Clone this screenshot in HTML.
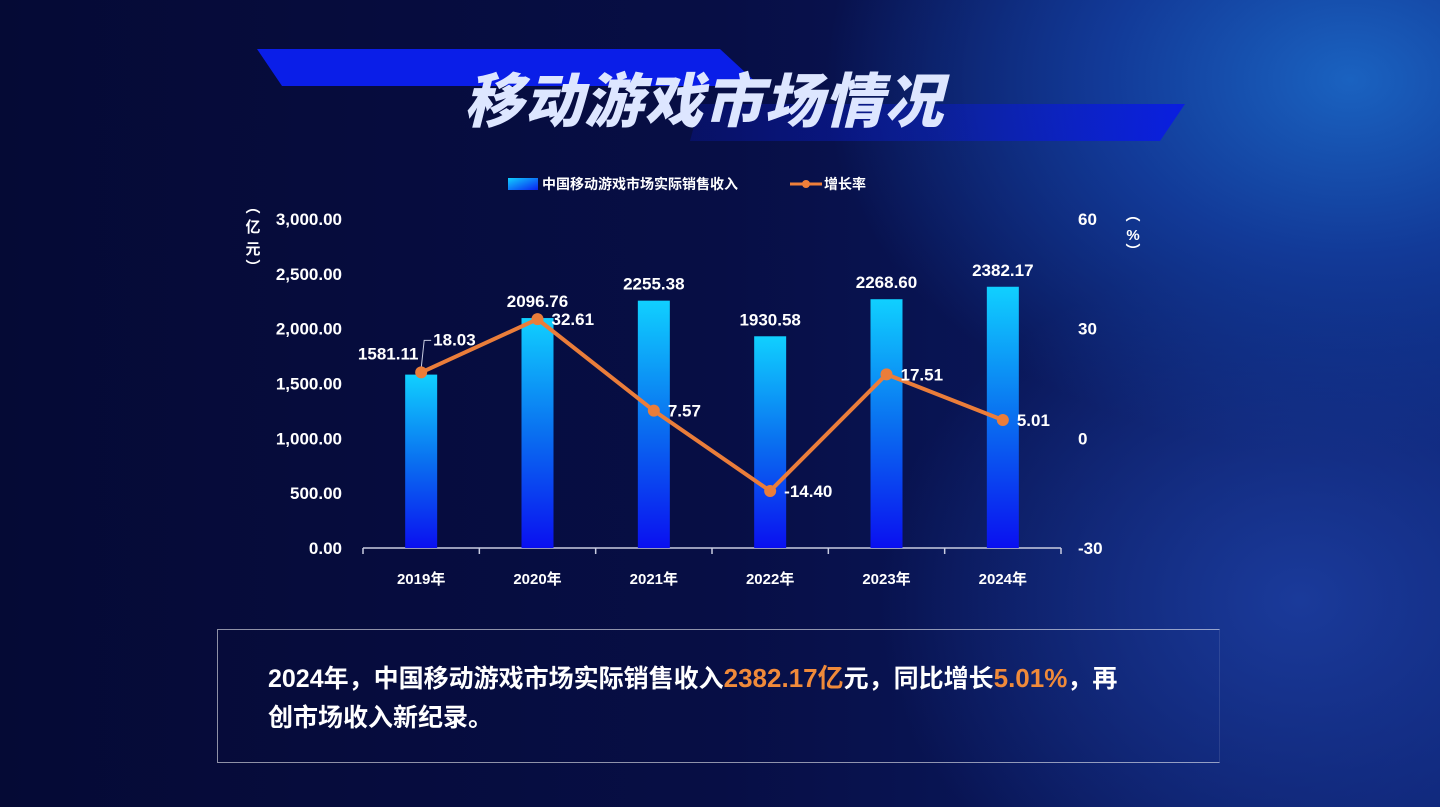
<!DOCTYPE html>
<html><head><meta charset="utf-8"><style>
html,body{margin:0;padding:0;width:1440px;height:807px;overflow:hidden}
body{background:radial-gradient(ellipse 700px 500px at 1350px 80px,#1a62c0 0%,#123a98 35%,transparent 75%),radial-gradient(ellipse 600px 500px at 1300px 600px,#1a3a9a 0%,transparent 70%),linear-gradient(90deg,#050a35 0%,#070e45 50%,#0c2170 100%);font-family:"Liberation Sans","Noto Sans CJK SC",sans-serif;position:relative}
svg{position:absolute;left:0;top:0}
text{font-family:"Liberation Sans","Noto Sans CJK SC",sans-serif;font-weight:bold;fill:#fff}
#box{position:absolute;left:217px;top:629px;width:1003px;height:134px;border:1px solid rgba(255,255,255,0.55);border-right-color:rgba(255,255,255,0.1);box-sizing:border-box}
#box p{margin:0;position:absolute;left:50px;top:29px;width:860px;color:#fff;font-size:25px;font-weight:bold;line-height:39px;font-family:"Liberation Sans","Noto Sans CJK SC",sans-serif}
.o{color:#f08a3a;font-size:26px}
</style></head><body>
<svg width="1440" height="807">
<defs>
<linearGradient id="bar" x1="0" y1="0" x2="0" y2="1"><stop offset="0" stop-color="#10d0ff"/><stop offset="0.5" stop-color="#0a70f0"/><stop offset="1" stop-color="#0a10f0"/></linearGradient>
<linearGradient id="ban" x1="0" y1="0" x2="1" y2="0"><stop offset="0" stop-color="#0a1ee8" stop-opacity="0.2"/><stop offset="0.5" stop-color="#0a1cc0" stop-opacity="0.5"/><stop offset="1" stop-color="#0a1ee0"/></linearGradient>
<linearGradient id="leg" x1="0" y1="0" x2="1" y2="1"><stop offset="0" stop-color="#10d0ff"/><stop offset="1" stop-color="#0a20f0"/></linearGradient>
</defs>
<polygon points="257,49 720,49 760,86 282,86" fill="#0a1ee8"/>
<polygon points="700,104 1185,104 1160,141 690,141" fill="url(#ban)"/>
<text x="704" y="122" text-anchor="middle" font-size="59" font-style="italic" style="fill:#dde6ff;font-weight:900" letter-spacing="1">移动游戏市场情况</text>
<rect x="508" y="178" width="30" height="12" fill="url(#leg)"/>
<text x="542" y="189" font-size="14">中国移动游戏市场实际销售收入</text>
<line x1="790" y1="184" x2="822" y2="184" stroke="#f07f3a" stroke-width="3"/><circle cx="806" cy="184" r="4" fill="#f07f3a"/>
<text x="824" y="189" font-size="14">增长率</text>
<text x="253" y="212" font-size="15" text-anchor="middle"><tspan x="253" dy="0">︵</tspan><tspan x="253" dy="20">亿</tspan><tspan x="253" dy="22">元</tspan><tspan x="253" dy="18">︶</tspan></text>
<text x="1133" y="220" font-size="15" text-anchor="middle"><tspan x="1133" dy="0">︵</tspan><tspan x="1133" dy="20">%</tspan><tspan x="1133" dy="16">︶</tspan></text>
<g id="g"></g>
</svg>
<div id="box"><p>2024年，中国移动游戏市场实际销售收入<span class="o">2382.17亿</span>元，同比增长<span class="o">5.01%</span>，再创市场收入新纪录。</p></div>
<script>
const categories=["2019年","2020年","2021年","2022年","2023年","2024年"];
const revenue=[1581.11,2096.76,2255.38,1930.58,2268.60,2382.17];
const growth=[18.03,32.61,7.57,-14.40,17.51,5.01];
const leftTicks=[0,500,1000,1500,2000,2500,3000];
const rightTicks=[-30,0,30,60];
const NS="http://www.w3.org/2000/svg";
const g=document.getElementById('g');
const X0=363,X1=1061,TOPY=219,BOTY=548;
const band=(X1-X0)/categories.length;
const xc=i=>X0+band*(i+0.5);
const yl=v=>BOTY-(v/3000)*(BOTY-TOPY);
const yr=v=>BOTY-((v+30)/90)*(BOTY-TOPY);
function el(t,a,txt){const e=document.createElementNS(NS,t);for(const k in a)e.setAttribute(k,a[k]);if(txt!=null)e.textContent=txt;g.appendChild(e);return e;}
leftTicks.forEach(v=>{const e=el('text',{x:342,y:yl(v)+6,'text-anchor':'end','font-size':17},v.toLocaleString('en-US',{minimumFractionDigits:2}));

});
rightTicks.forEach(v=>{const e=el('text',{x:1078,y:yr(v)+6,'font-size':17},String(v));

});
const ax=el('line',{x1:X0,y1:BOTY,x2:X1,y2:BOTY,stroke:'#c8cce0','stroke-width':1.5});


for(let i=0;i<=categories.length;i++){el('line',{x1:X0+band*i,y1:BOTY,x2:X0+band*i,y2:BOTY+6,stroke:'#c8cce0','stroke-width':1.5});}
categories.forEach((c,i)=>{
const b=el('rect',{x:xc(i)-16,y:yl(revenue[i]),width:32,height:BOTY-yl(revenue[i]),fill:'url(#bar)'});


const t=el('text',{x:xc(i)+(i==0?-33:0),y:yl(revenue[i])-(i==0?15:11),'text-anchor':'middle','font-size':17},revenue[i].toFixed(2));


const l=el('text',{x:xc(i),y:584,'text-anchor':'middle','font-size':15},c);


});
const pts=growth.map((v,i)=>xc(i)+','+yr(v)).join(' ');
const pl=el('polyline',{points:pts,fill:'none',stroke:'#ea7d3a','stroke-width':4,'stroke-linejoin':'round'});


el('polyline',{points:`${xc(0)},${yr(growth[0])-4} ${xc(0)+3},${yr(growth[0])-32} ${xc(0)+10},${yr(growth[0])-32}`,fill:'none',stroke:'#c8cce0','stroke-width':1});
growth.forEach((v,i)=>{
const c=el('circle',{cx:xc(i),cy:yr(v),r:6,fill:'#ea7d3a'});


const dy=i==0?-27:6;
const t=el('text',{x:xc(i)+(i==0?12:14),y:yr(v)+dy,'font-size':17},v.toFixed(2));


});
</script>
</body></html>
